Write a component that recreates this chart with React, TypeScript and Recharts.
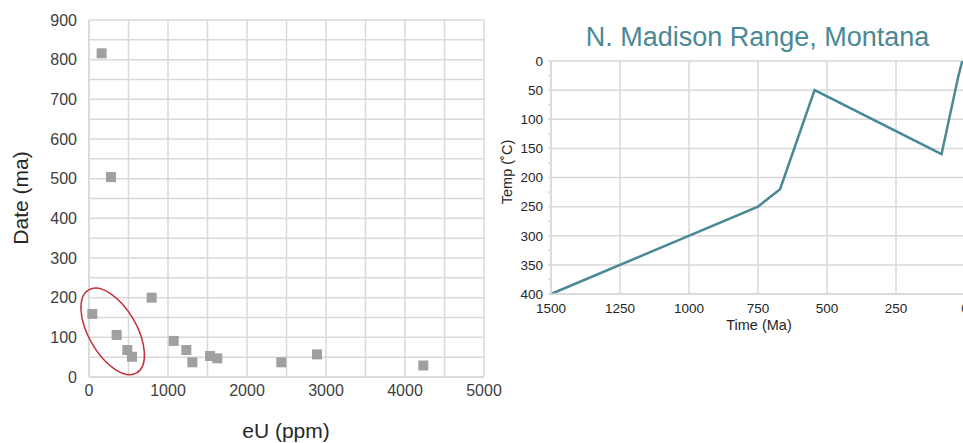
import React from 'react';
import {
  ScatterChart,
  Scatter,
  XAxis,
  YAxis,
  CartesianGrid,
  ReferenceDot,
  LineChart,
  Line,
} from 'recharts';

// ---------- Left chart data (eU vs Date) ----------
const eU = [160, 278, 42, 350, 485, 544, 793, 1072, 1232, 1308, 1532, 1624, 2434, 2886, 4232];
const dateMa = [816, 504, 159, 106, 68, 51, 200, 91, 68, 37, 53, 47, 37, 57, 29];
const xTicksL = [0, 1000, 2000, 3000, 4000, 5000];
const yTicksL = [0, 100, 200, 300, 400, 500, 600, 700, 800, 900];
const gridXL = [0, 500, 1000, 1500, 2000, 2500, 3000, 3500, 4000, 4500, 5000];
const gridYL = [0, 50, 100, 150, 200, 250, 300, 350, 400, 450, 500, 550, 600, 650, 700, 750, 800, 850, 900];
const ellipseCenter = { eU: 300, date: 115 };

// ---------- Right chart data (thermal history) ----------
const timeMa = [1500, 750, 670, 545, 85, 25, 10];
const tempC = [400, 250, 220, 50, 160, 28, 0];
const xTicksR = [0, 250, 500, 750, 1000, 1250, 1500];
const yTicksR = [0, 25, 50, 75, 100, 125, 150, 175, 200, 225, 250, 275, 300, 325, 350, 375, 400];
const gridYR = [0, 50, 100, 150, 200, 250, 300, 350, 400];

const scatterData = eU.map((v, i) => ({ eU: v, date: dateMa[i] }));
const lineData = timeMa.map((t, i) => ({ time: t, temp: tempC[i] }));

const FONT = '"Liberation Sans", Arial, sans-serif';
const GRID = '#d9d9d9';
const TICK = '#404040';
const TEAL = '#4a8995';

const SquareShape = (p: any) => (
  <rect x={p.cx - 5} y={p.cy - 5} width={10} height={10} fill="#a0a0a0" />
);

const EllipseShape = (p: any) => (
  <ellipse
    cx={p.cx}
    cy={p.cy}
    rx={48}
    ry={24}
    transform={`rotate(60 ${p.cx} ${p.cy})`}
    fill="none"
    stroke="#c4323b"
    strokeWidth={1.5}
  />
);

const YTitleL = () => (
  <text
    x={28}
    y={198}
    transform="rotate(-90 28 198)"
    textAnchor="middle"
    fontSize={21}
    fontFamily={FONT}
    fill="#262626"
  >
    Date (ma)
  </text>
);

const XTitleL = () => (
  <text x={286} y={438} textAnchor="middle" fontSize={21} fontFamily={FONT} fill="#262626">
    eU (ppm)
  </text>
);

const YTitleR = () => (
  <text
    x={22}
    y={172}
    transform="rotate(-90 22 172)"
    textAnchor="middle"
    fontSize={14.5}
    fontFamily={FONT}
    fill="#262626"
  >
    Temp (˚C)
  </text>
);

const XTitleR = () => (
  <text x={269} y={330} textAnchor="middle" fontSize={14.5} fontFamily={FONT} fill="#262626">
    Time (Ma)
  </text>
);

export default function App() {
  return (
    <div
      style={{
        position: 'absolute',
        left: 0,
        top: 0,
        width: 963,
        height: 443,
        overflow: 'hidden',
        background: '#fff',
        fontFamily: FONT,
      }}
    >
      <div style={{ position: 'absolute', left: 0, top: 0 }}>
        <ScatterChart width={520} height={443} margin={{ top: 20, right: 36, left: 0, bottom: 0 }}>
          <CartesianGrid
            stroke={GRID}
            strokeWidth={1.5}
            horizontalValues={gridYL}
            verticalValues={gridXL}
          />
          <XAxis
            type="number"
            dataKey="eU"
            domain={[0, 5000]}
            ticks={xTicksL}
            height={66}
            axisLine={{ stroke: GRID, strokeWidth: 1.5 }}
            tickLine={false}
            tickSize={6}
            tickMargin={2}
            tick={{ fontSize: 16, fill: TICK, fontFamily: FONT }}
            interval={0}
            label={<XTitleL />}
          />
          <YAxis
            type="number"
            dataKey="date"
            domain={[0, 900]}
            ticks={yTicksL}
            width={89}
            axisLine={{ stroke: GRID, strokeWidth: 1.5 }}
            tickLine={false}
            tickSize={6}
            tickMargin={6}
            tick={{ fontSize: 16, fill: TICK, fontFamily: FONT }}
            interval={0}
            label={<YTitleL />}
          />
          <Scatter data={scatterData} shape={SquareShape} isAnimationActive={false} />
          <ReferenceDot
            x={ellipseCenter.eU}
            y={ellipseCenter.date}
            ifOverflow="visible"
            shape={EllipseShape}
          />
        </ScatterChart>
      </div>

      <svg
        style={{ position: 'absolute', left: 490, top: 0 }}
        width={490}
        height={60}
      >
        <text x={267.5} y={46} textAnchor="middle" fontSize={27} fontFamily={FONT} fill={TEAL}>
          N. Madison Range, Montana
        </text>
      </svg>

      <div style={{ position: 'absolute', left: 490, top: 0 }}>
        <LineChart
          width={490}
          height={340}
          data={lineData}
          margin={{ top: 61, right: 15, left: 0, bottom: 0 }}
        >
          <CartesianGrid
            stroke={GRID}
            strokeWidth={1.5}
            horizontalValues={gridYR}
            verticalValues={xTicksR}
          />
          <XAxis
            type="number"
            dataKey="time"
            domain={[0, 1500]}
            reversed
            ticks={xTicksR}
            height={46}
            axisLine={{ stroke: GRID, strokeWidth: 1.5 }}
            tickLine={false}
            tickSize={6}
            tickMargin={3}
            tick={{ fontSize: 13.5, fill: '#262626', fontFamily: FONT }}
            interval={0}
            label={<XTitleR />}
          />
          <YAxis
            type="number"
            dataKey="temp"
            domain={[0, 400]}
            reversed
            ticks={yTicksR}
            width={61}
            axisLine={{ stroke: GRID, strokeWidth: 1.5 }}
            tickLine={{ stroke: GRID, strokeWidth: 1.5 }}
            tickSize={3}
            tickMargin={5}
            tickFormatter={(v: number) => (v % 50 === 0 ? String(v) : '')}
            tick={{ fontSize: 13.5, fill: '#262626', fontFamily: FONT }}
            interval={0}
            label={<YTitleR />}
          />
          <Line
            type="linear"
            dataKey="temp"
            stroke={TEAL}
            strokeWidth={2.5}
            dot={false}
            isAnimationActive={false}
          />
        </LineChart>
      </div>
    </div>
  );
}
